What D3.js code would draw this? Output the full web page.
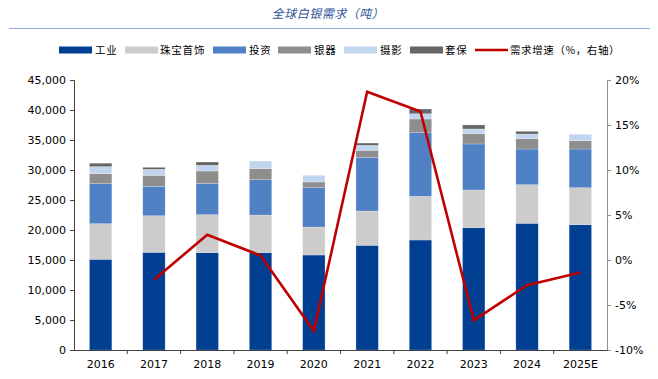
<!DOCTYPE html>
<html><head><meta charset="utf-8">
<script src="https://cdn.jsdelivr.net/npm/d3@7/dist/d3.min.js"></script>
<style>body{margin:0;background:#fff;}svg{display:block;}</style>
</head><body><svg id="c" width="658" height="379"></svg>
<script>
const categories = ["2016","2017","2018","2019","2020","2021","2022","2023","2024","2025E"];
const industrial  = [15120,16280,16220,16220,15830,17450,18330,20380,21120,20880];
const jewelry     = [5930,6100,6330,6280,4670,5720,7290,6290,6430,6170];
const investment  = [6670,4900,5230,5880,6550,8880,10600,7670,5950,6450];
const silverware  = [1670,1830,2050,1830,950,1230,2280,1720,1720,1380];
const photography = [1170,1000,950,1280,1120,830,880,780,780,1070];
const hedging     = [570,330,550,0,0,380,780,670,450,0];
const growth      = [null,-2.2,2.8,0.5,-7.9,18.7,16.5,-6.7,-2.8,-1.4];
const leftTicks = [0,5000,10000,15000,20000,25000,30000,35000,40000,45000];
const rightTicks = [-10,-5,0,5,10,15,20];
const seriesNames = ["工业","珠宝首饰","投资","银器","摄影","套保"];
const seriesColors = ["#003F91","#CCCCCC","#4F81C4","#8E8E8E","#C2D5EE","#666666"];
const lineName = "需求增速（%，右轴）";
const lineColor = "#C00000";
const title = "全球白银需求（吨）";

const svg = d3.select("#c");
const L = 74, R = 607, T = 80, B = 350;
const x = d3.scaleBand().domain(categories).range([L, R]).paddingInner(0.58).paddingOuter(0.29);
const y = d3.scaleLinear().domain([0,45000]).range([B, T]);
const y2 = d3.scaleLinear().domain([-10,20]).range([B, T]);
const font = "'DejaVu Sans', Verdana, sans-serif";
const cjk = "'Noto Sans CJK SC', sans-serif";

// Title
svg.append("text").attr("x", 328).attr("y", 18).attr("text-anchor","middle")
  .attr("font-family", cjk).attr("font-size", 12).attr("font-style","italic")
  .attr("letter-spacing", 0.5)
  .attr("fill","#2F5597").text(title);
svg.append("line").attr("x1",9).attr("x2",650).attr("y1",28.5).attr("y2",28.5)
  .attr("stroke","#8FAADC").attr("stroke-width",1.2);

// Stacked bars
const series = [industrial, jewelry, investment, silverware, photography, hedging];
const rows = categories.map((c,i)=>{const o={cat:c}; seriesNames.forEach((n,k)=>o[n]=series[k][i]); return o;});
const stack = d3.stack().keys(seriesNames)(rows);
svg.append("g").selectAll("g").data(stack).join("g")
  .attr("fill",(d,i)=>seriesColors[i])
  .selectAll("rect").data(d=>d).join("rect")
  .attr("x", d=>x(d.data.cat)).attr("width", x.bandwidth())
  .attr("y", d=>y(d[1])).attr("height", d=>Math.max(0, y(d[0])-y(d[1])))
  .attr("stroke","#ffffff").attr("stroke-opacity",0.35).attr("stroke-width",0.6);

// Axes
const gl = svg.append("g").attr("transform",`translate(${L},0)`)
  .call(d3.axisLeft(y).tickValues(leftTicks).tickSize(4).tickPadding(4).tickFormat(d3.format(",")));
gl.select(".domain").attr("stroke","#404040");
gl.selectAll(".tick line").attr("stroke","#404040");
gl.selectAll("text").attr("font-family",font).attr("font-size",11).attr("fill","#000");

const gr = svg.append("g").attr("transform",`translate(${R},0)`)
  .call(d3.axisRight(y2).tickValues(rightTicks).tickSize(4).tickPadding(4).tickFormat(d=>d+"%"));
gr.select(".domain").attr("stroke","#909090");
gr.selectAll(".tick line").attr("stroke","#909090");
gr.selectAll("text").attr("font-family",font).attr("font-size",11).attr("fill","#000");

const gx = svg.append("g").attr("transform",`translate(0,${B})`)
  .call(d3.axisBottom(x).tickSize(0).tickPadding(10));
gx.select(".domain").attr("stroke","#404040");
gx.selectAll("text").attr("font-family",font).attr("font-size",11).attr("fill","#000");
const step = x.step();
gx.selectAll(".bnd").data(categories.slice(1)).join("line").attr("class","bnd")
  .attr("x1",d=>x(d)-(step-x.bandwidth())/2).attr("x2",d=>x(d)-(step-x.bandwidth())/2)
  .attr("y1",0).attr("y2",4).attr("stroke","#404040");

// Line
const pts = categories.map((c,i)=>({c, v:growth[i]})).filter(d=>d.v!==null);
svg.append("path").datum(pts)
  .attr("d", d3.line().x(d=>x(d.c)+x.bandwidth()/2).y(d=>y2(d.v)))
  .attr("fill","none").attr("stroke",lineColor).attr("stroke-width",2.6).attr("stroke-linejoin","miter");

// Legend
const leg = [
  {sx:59,tx:95},{sx:125,tx:160},{sx:213,tx:249},
  {sx:278,tx:314},{sx:344,tx:380},{sx:410,tx:445}
];
const lg = svg.append("g");
leg.forEach((d,i)=>{
  lg.append("rect").attr("x",d.sx).attr("y",46.5).attr("width",33).attr("height",7).attr("fill",seriesColors[i]);
  lg.append("text").attr("x",d.tx).attr("y",54).attr("font-family",cjk).attr("font-size",10.5).attr("letter-spacing",0.8).attr("fill","#000").text(seriesNames[i]);
});
lg.append("line").attr("x1",475).attr("x2",508).attr("y1",50).attr("y2",50).attr("stroke",lineColor).attr("stroke-width",2.6);
lg.append("text").attr("x",510).attr("y",54).attr("font-family",cjk).attr("font-size",10.5).attr("letter-spacing",0.6).attr("fill","#000").text(lineName);
</script></body></html>
